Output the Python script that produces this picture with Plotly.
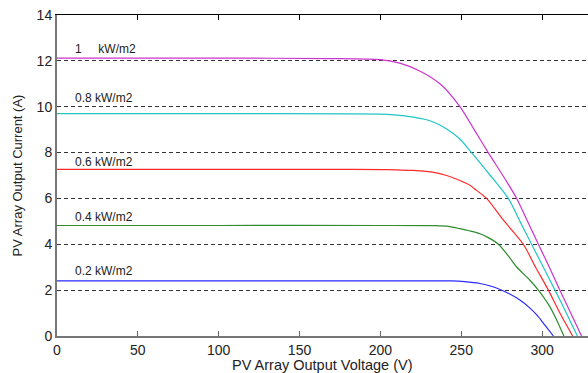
import plotly.graph_objects as go

# Data (Voltage in V, Current in A)
v_1000 = [0, 100, 170, 200, 212, 224, 237, 249.2, 258, 266.7, 277.7, 284.3, 291, 297.7, 304.5, 311, 317.7, 324.4]
i_1000 = [12.12, 12.12, 12.1, 12.05, 11.9, 11.57, 10.99, 10.0, 9.0, 8.0, 6.78, 6.0, 5.0, 4.0, 3.0, 2.0, 1.0, 0]

v_800 = [0, 100, 180, 200, 215, 230.7, 241, 249, 256.4, 268, 279.1, 286.3, 293.5, 300.8, 308, 315, 321.8]
i_800 = [9.7, 9.7, 9.69, 9.68, 9.6, 9.39, 9.03, 8.6, 8.0, 7.0, 6.0, 5.0, 4.0, 3.0, 2.0, 1.0, 0]

v_600 = [0, 100, 180, 205, 220, 233, 241, 249.2, 255.4, 259.5, 265.7, 276, 288.4, 296, 303.9, 311, 318.9]
i_600 = [7.27, 7.27, 7.27, 7.26, 7.22, 7.14, 7.0, 6.78, 6.57, 6.35, 6.0, 5.06, 4.0, 3.0, 2.0, 1.0, 0]

v_400 = [0, 100, 200, 234, 242, 249.2, 255.4, 261.6, 267, 273, 278.5, 284.3, 292.5, 297.7, 304.9, 309, 313.5]
i_400 = [4.82, 4.82, 4.82, 4.81, 4.78, 4.68, 4.58, 4.46, 4.28, 4.0, 3.55, 3.01, 2.43, 2.0, 1.27, 0.7, 0]

v_200 = [0, 100, 200, 244, 252, 261.6, 268, 274, 280, 286.3, 292, 297, 302, 307]
i_200 = [2.4, 2.4, 2.4, 2.4, 2.37, 2.29, 2.18, 2.03, 1.83, 1.57, 1.25, 0.9, 0.45, 0]

labels = ["1\u00a0\u00a0\u00a0\u00a0 kW/m2", "0.8 kW/m2", "0.6 kW/m2", "0.4 kW/m2", "0.2 kW/m2"]
label_x = [9.9, 9.9, 9.9, 9.9, 9.9]
label_y = [12.52, 10.39, 7.57, 5.17, 2.83]

x_ticks = [0, 50, 100, 150, 200, 250, 300]
y_ticks = [0, 2, 4, 6, 8, 10, 12, 14]

x_title = "PV Array Output Voltage (V)"
y_title = "PV Array Output Current (A)"

series = [
    (v_1000, i_1000, "#cc33cc"),
    (v_800, i_800, "#22c4c4"),
    (v_600, i_600, "#ff2a2a"),
    (v_400, i_400, "#2e8b2e"),
    (v_200, i_200, "#2a2aff"),
]

FONT = "Arial, 'Liberation Sans', sans-serif"

fig = go.Figure()
for vx, iy, col in series:
    fig.add_trace(go.Scatter(x=vx, y=iy, mode="lines",
                             line=dict(color=col, width=1.2, shape="spline", smoothing=0.7),
                             showlegend=False))

# dummy trace on top axis for mirrored ticks
fig.add_trace(go.Scatter(x=[0], y=[0], xaxis="x2", mode="none", showlegend=False, hoverinfo="skip"))

for t, lx, ly in zip(labels, label_x, label_y):
    fig.add_annotation(x=lx, y=ly, text=t, showarrow=False, xanchor="left", yanchor="middle",
                       font=dict(family=FONT, size=12, color="#222"))

# x-axis title placed as paper annotation (below tick labels)
fig.add_annotation(x=0.5, xref="paper", y=-0.0903, yref="paper", text=x_title, showarrow=False,
                   xanchor="center", yanchor="middle", font=dict(family=FONT, size=14.5, color="#222"))

fig.update_layout(
    width=588, height=373,
    margin=dict(l=57, r=0, t=15, b=37, autoexpand=False),
    paper_bgcolor="white", plot_bgcolor="white",
    font=dict(family=FONT, color="#222"),
    xaxis=dict(range=[0, 328.4], tickvals=x_ticks, ticks="inside", ticklen=5,
               tickcolor="#666", showline=True, linecolor="#777", linewidth=2,
               showgrid=False, zeroline=False, tickfont=dict(size=14), automargin=False),
    xaxis2=dict(range=[0, 328.4], overlaying="x", side="top", tickvals=x_ticks,
                ticks="inside", ticklen=5, tickcolor="#000", showticklabels=False,
                showline=True, linecolor="#000", linewidth=1, showgrid=False, zeroline=False),
    yaxis=dict(range=[0, 14], tickvals=y_ticks, ticks="", showline=True,
               linecolor="#777", linewidth=2, showgrid=True, gridcolor="#333",
               griddash="4px,3px", gridwidth=1, zeroline=False, tickfont=dict(size=14),
               automargin=False,
               title=dict(text=y_title, font=dict(size=13), standoff=11)),
)

fig.write_html("out.html", config={"displayModeBar": False},
               post_script="document.body.style.margin='0';document.body.style.padding='0';document.body.style.overflow='hidden';")
